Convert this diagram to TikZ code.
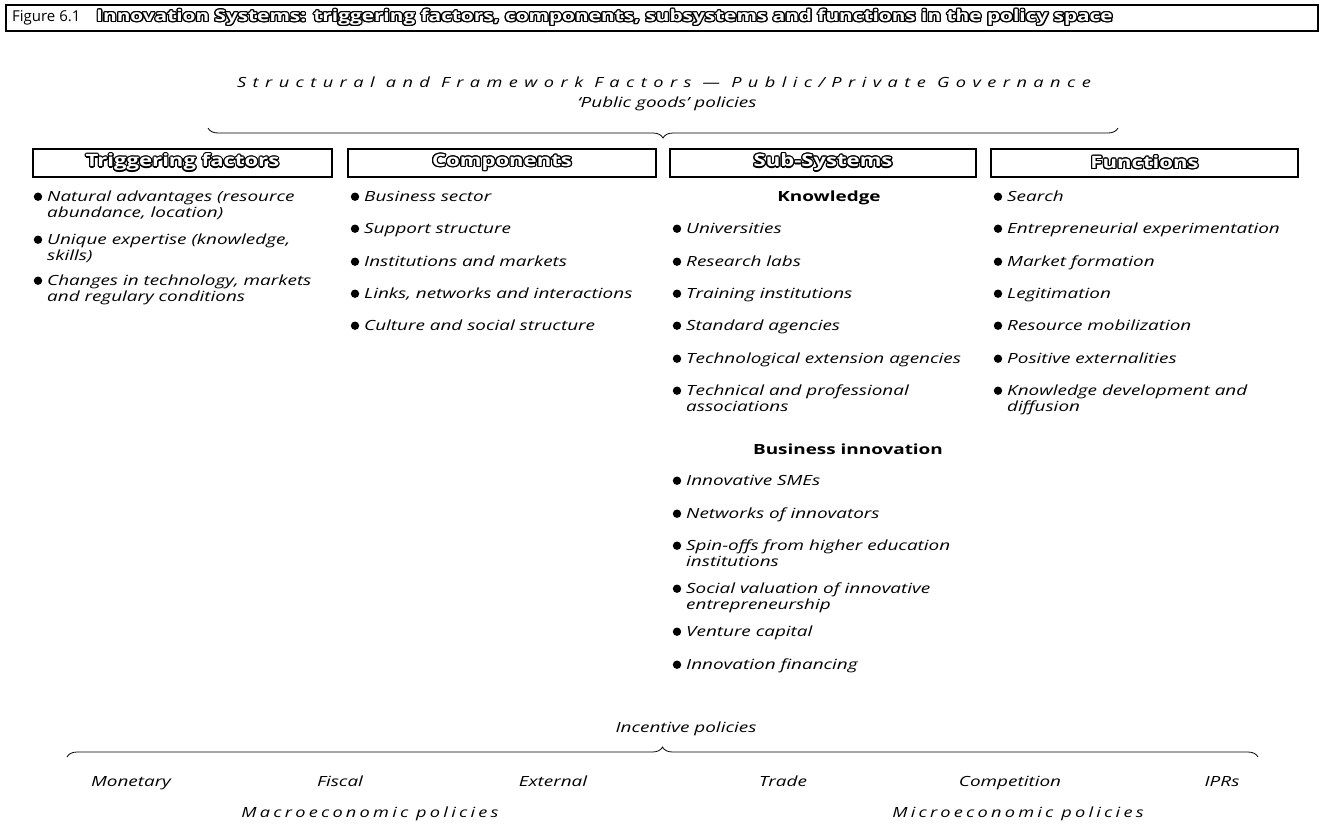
\documentclass[tikz,border=0pt]{standalone}
\usepackage{fontspec}
\setmainfont{Open Sans}
\usepackage{contour}
\usetikzlibrary{decorations.pathreplacing}
\newfontfamily\bodyf[FakeStretch=1.35]{Open Sans}
\newfontfamily\spacedf[FakeStretch=1.3,LetterSpace=46]{Open Sans}
\newfontfamily\spacedg[FakeStretch=1.3,LetterSpace=23]{Open Sans}
\newfontfamily\headf[FakeStretch=1.3]{Open Sans}
\contourlength{1.2pt}
\newcommand\outl[1]{\textcolor{white}{\contour{black}{#1}}}
\newcommand\bitem[4]{%
  \fill (#2-9,#3-4.8) circle (4.2);
  \node[itm] (#1) at (#2,#3-11.2) {\strut #4};}
\tikzset{
  itm/.style={anchor=north west, inner sep=0pt, align=left, font=\bodyf\fontsize{14}{16}\selectfont\itshape},
  lbl/.style={anchor=base, inner sep=0pt, font=\bodyf\fontsize{14}{16}\selectfont\itshape},
  spaced/.style={anchor=base, inner sep=0pt, font=\spacedf\fontsize{14}{16}\selectfont\itshape},
  spacedb/.style={anchor=base, inner sep=0pt, font=\spacedg\fontsize{14}{16}\selectfont\itshape},
  subhd/.style={anchor=base, inner sep=0pt, font=\bodyf\fontsize{14}{16}\selectfont\bfseries},
  hbox/.style={draw, line width=1.6pt, inner sep=0pt, minimum height=28pt, font=\headf\fontsize{17}{20}\selectfont\bfseries},
  bracestyle/.style={line width=0.8pt, decorate, decoration={brace, amplitude=10pt}}
}
\begin{document}
\begin{tikzpicture}[x=1pt,y=-1pt]
\useasboundingbox (0,0) rectangle (1323,839);
% title
\draw[line width=1.6pt] (6,5) rectangle (1318,31);
\node[anchor=west, inner sep=0pt, font=\fontsize{15}{17}\selectfont] (fig) at (12,18) {Figure 6.1};
\node[anchor=west, inner sep=0pt, font=\headf\fontsize{16}{18}\selectfont\bfseries] (ttl) at (96,18) {\outl{Innovation Systems: triggering factors, components, subsystems and functions in the policy space}};
% top texts
\node[spaced] (sff) at (664,87) {Structural and Framework Factors — Public/Private Governance};
\node[lbl] (pgp) at (667,107) {‘Public goods’ policies};
\coordinate (tbL) at (208,128);
\coordinate (tbR) at (1118,128);
\draw[bracestyle] (tbR) -- (tbL);
% headers
\node[hbox, minimum width=299pt] (hTF) at (182.5,163) {\outl{Triggering factors}};
\node[hbox, minimum width=308pt] (hCO) at (502,163) {\outl{Components}};
\node[hbox, minimum width=306pt] (hSS) at (823,163) {\outl{Sub-Systems}};
\node[hbox, minimum width=307pt] (hFU) at (1144.5,163) {\outl{Functions}};
% column 1
\bitem{t1}{47}{201.5}{Natural advantages (resource\\abundance, location)}
\bitem{t2}{47}{244.5}{Unique expertise (knowledge,\\skills)}
\bitem{t3}{47}{285.5}{Changes in technology, markets\\and regulary conditions}
% column 2
\bitem{c1}{364}{201.5}{Business sector}
\bitem{c2}{364}{233.5}{Support structure}
\bitem{c3}{364}{266.5}{Institutions and markets}
\bitem{c4}{364}{298.5}{Links, networks and interactions}
\bitem{c5}{364}{330.5}{Culture and social structure}
% column 3
\node[subhd] (know) at (829,201) {Knowledge};
\bitem{s1}{686}{233.5}{Universities}
\bitem{s2}{686}{266.5}{Research labs}
\bitem{s3}{686}{298.5}{Training institutions}
\bitem{s4}{686}{330.5}{Standard agencies}
\bitem{s5}{686}{363.5}{Technological extension agencies}
\bitem{s6}{686}{395.5}{Technical and professional\\associations}
\node[subhd] (busi) at (848,454) {Business innovation};
\bitem{s7}{686}{485.5}{Innovative SMEs}
\bitem{s8}{686}{518.5}{Networks of innovators}
\bitem{s9}{686}{550.5}{Spin-offs from higher education\\institutions}
\bitem{s10}{686}{593.5}{Social valuation of innovative\\entrepreneurship}
\bitem{s11}{686}{636.5}{Venture capital}
\bitem{s12}{686}{669.5}{Innovation financing}
% column 4
\bitem{f1}{1007}{201.5}{Search}
\bitem{f2}{1007}{233.5}{Entrepreneurial experimentation}
\bitem{f3}{1007}{266.5}{Market formation}
\bitem{f4}{1007}{298.5}{Legitimation}
\bitem{f5}{1007}{330.5}{Resource mobilization}
\bitem{f6}{1007}{363.5}{Positive externalities}
\bitem{f7}{1007}{395.5}{Knowledge development and\\diffusion}
% bottom
\node[lbl] (inc) at (686,732) {Incentive policies};
\coordinate (bbL) at (67,757);
\coordinate (bbR) at (1258,757);
\draw[bracestyle] (bbL) -- (bbR);
\node[lbl] (mon) at (131,786) {Monetary};
\node[lbl] (fis) at (340,786) {Fiscal};
\node[lbl] (ext) at (553,786) {External};
\node[lbl] (tra) at (783,786) {Trade};
\node[lbl] (com) at (1010,786) {Competition};
\node[lbl] (ipr) at (1222,786) {IPRs};
\node[spacedb] (mac) at (370,817) {Macroeconomic policies};
\node[spacedb] (mic) at (1018,817) {Microeconomic policies};
\end{tikzpicture}
\end{document}
